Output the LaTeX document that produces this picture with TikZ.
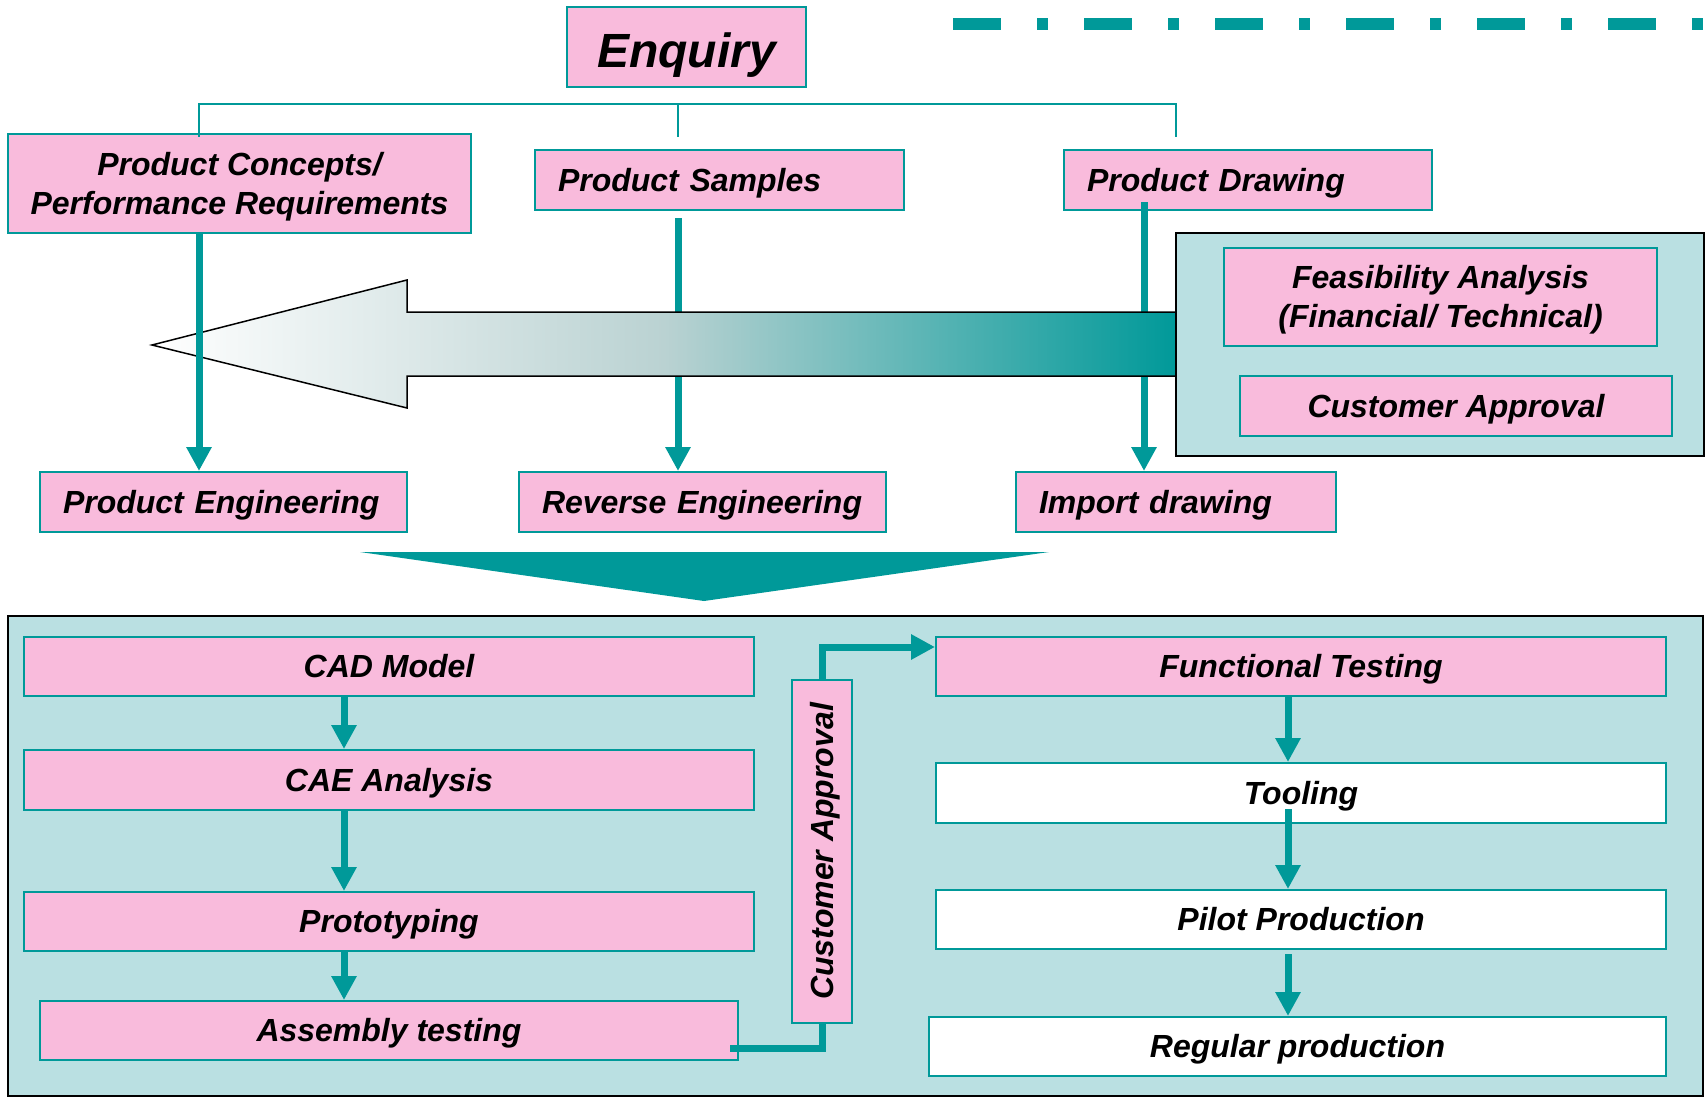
\documentclass[tikz,border=0pt]{standalone}
\usepackage{fontspec}
\setsansfont{Liberation Sans}
\usepackage{tikz}
\usetikzlibrary{arrows.meta}
\usetikzlibrary{positioning,calc}
\definecolor{nodepink}{RGB}{249,187,220}
\definecolor{flowteal}{RGB}{0,153,153}
\definecolor{groupblue}{RGB}{186,224,226}
\definecolor{shaftgrey}{RGB}{186,210,210}
\tikzset{
	every node/.style={font=\sffamily\bfseries\itshape\fontsize{32}{39}\selectfont}
}
\tikzset{
	>={Triangle[length=24pt,width=24pt]},
	pink node/.style={rectangle,fill=nodepink,draw=flowteal,line width=2pt,align=center,inner sep=0pt,text height=23pt,text depth=1pt},
	two lines/.style={text height=62pt},
	white node/.style={pink node,fill=white},
	left node/.style={pink node,align=left,inner xsep=23pt},
	group box/.style={rectangle,fill=groupblue,draw=black,line width=2pt,inner sep=0pt},
	link/.style={draw=flowteal,line width=7pt},
	flow/.style={link,->},
	bracket/.style={draw=flowteal,line width=2pt},
	top dash/.style={draw=flowteal,line width=12pt,dash pattern=on 48pt off 36pt on 11pt off 36pt}
}

\begin{document}
\begin{tikzpicture}[x=1pt,y=-1pt]
      \useasboundingbox (0,0) rectangle (1705,1097);
      % top part
      \coordinate (dashA) at (953,24);
      \coordinate (dashB) at (1705,24);
      \draw[top dash] (dashA) -- (dashB);
      \node[pink node,minimum width=239pt,minimum height=80pt,text height=40pt,text depth=0pt,font=\sffamily\bfseries\itshape\fontsize{48}{56}\selectfont] (EQ) at (686.5,47.5) {Enquiry};
      \node[pink node,two lines,minimum width=463pt,minimum height=99pt] (PC) at (239.5,183.5) {Product Concepts/\\Performance Requirements};
      \node[left node,text width=323pt,minimum height=60pt] (PS) at (719.5,180) {Product Samples};
      \node[left node,text width=322pt,minimum height=60pt] (PD) at (1248,180) {Product Drawing};
      \node[left node,text width=321pt,minimum height=60pt] (PE) at (223.5,502) {Product Engineering};
      \node[left node,text width=321pt,minimum height=60pt] (RE) at (702.5,502) {Reverse Engineering};
      \node[left node,text width=274pt,minimum height=60pt] (ID) at (1176,502) {Import drawing};
      \coordinate (brL) at (199,137);
      \coordinate (brM) at (678,137);
      \coordinate (brR) at (1176,137);
      \coordinate (dr) at (1144,0);
      \draw[bracket] (brL) -- ++(0,-33) -| (brR);
      \draw[bracket] (brM) -- ++(0,-33);
      \draw[flow] ($(PS.south -| brM)+(0,7)$) -- (RE.north -| brM);
      \draw[flow] ($(PD.south -| dr)+(0,-9)$) -- (ID.north -| dr);
      % big shaded arrow
      \draw[line width=1.5pt,left color=white,right color=flowteal,middle color=shaftgrey] (152,345) -- (407,280) -- (407,312) -- (1177,312) -- (1177,376) -- (407,376) -- (407,408) -- cycle;
      \draw[flow] (PC.south -| brL) -- (PE.north -| brL);
      \node[group box,minimum width=528pt,minimum height=223pt] (FB) at (1440,344.5) {};
      \node[pink node,two lines,minimum width=433pt,minimum height=98pt] (FA) at (1440.5,297) {Feasibility Analysis\\(Financial/ Technical)};
      \node[pink node,minimum width=432pt,minimum height=60pt] (CA1) at (1456,406) {Customer Approval};
      \fill[flowteal] (360,552) -- (1049,552) -- (704,601) -- cycle;
      % bottom part
      \node[group box,minimum width=1695pt,minimum height=480pt] (BB) at (855.5,856) {};
      \node[pink node,minimum width=730pt,minimum height=59pt] (CAD) at (389,666.5) {CAD Model};
      \node[pink node,minimum width=730pt,minimum height=60pt] (CAE) at (389,780) {CAE Analysis};
      \node[pink node,minimum width=730pt,minimum height=59pt] (PR) at (389,921.5) {Prototyping};
      \node[pink node,minimum width=698pt,minimum height=59pt] (AT) at (389,1030.5) {Assembly testing};
      \node[pink node,rotate=90,minimum width=343pt,minimum height=60pt] (CA2) at (822,851.5) {Customer Approval};
      \node[pink node,minimum width=730pt,minimum height=59pt] (FT) at (1301,666.5) {Functional Testing};
      \node[white node,minimum width=730pt,minimum height=60pt] (TL) at (1301,793) {Tooling};
      \node[white node,minimum width=730pt,minimum height=59pt] (PP) at (1301,919.5) {Pilot Production};
      \node[white node,minimum width=737pt,minimum height=59pt] (RP) at (1297.5,1046.5) {Regular production};
      \coordinate (lc) at (344,0);
      \coordinate (rc) at (1288,0);
      \draw[flow] (CAD.south -| lc) -- (CAE.north -| lc);
      \draw[flow] (CAE.south -| lc) -- (PR.north -| lc);
      \draw[flow] (PR.south -| lc) -- (AT.north -| lc);
      \draw[link] ($(AT.east)+(-9,17.5)$) -| (CA2.west);
      \draw[flow] (CA2.east) |- ($(FT.north west)+(0,11)$);
      \draw[flow] (FT.south -| rc) -- (TL.north -| rc);
      \draw[flow] ($(TL.south -| rc)+(0,-15)$) -- (PP.north -| rc);
      \draw[flow] ($(PP.south -| rc)+(0,4)$) -- (RP.north -| rc);
    \end{tikzpicture}
\end{document}
